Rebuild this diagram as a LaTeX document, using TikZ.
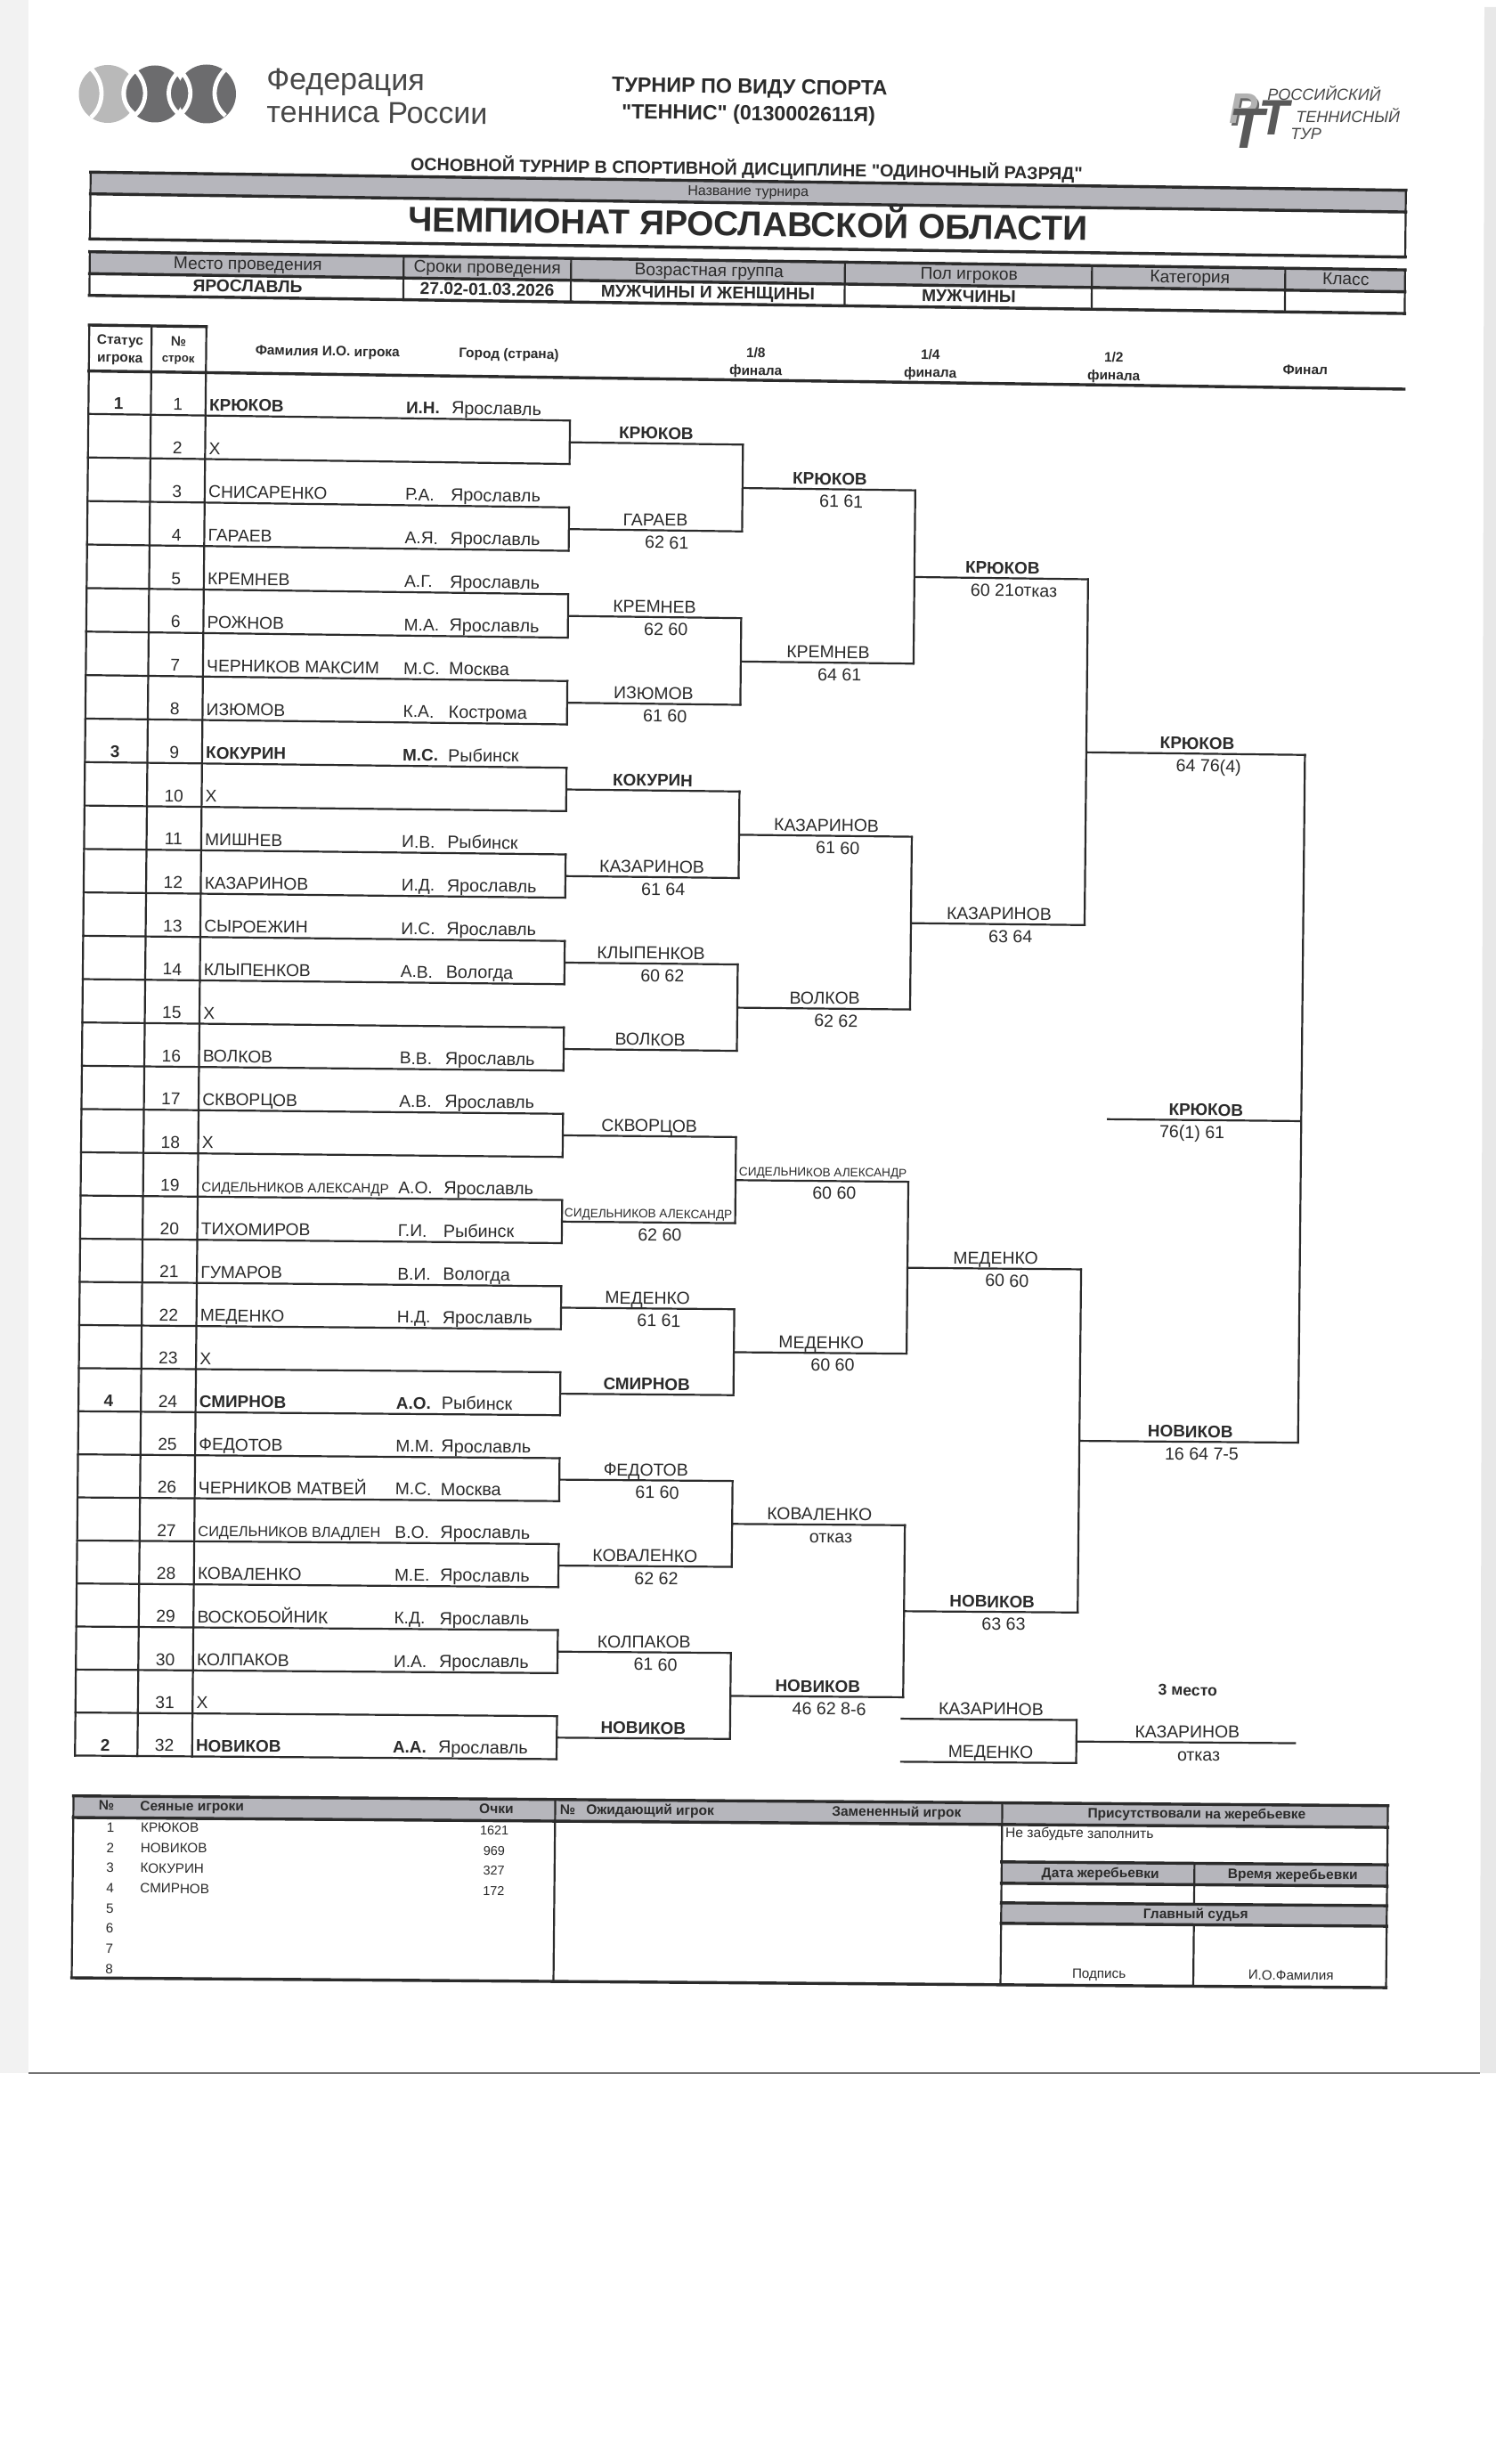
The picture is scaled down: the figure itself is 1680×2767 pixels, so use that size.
\documentclass[tikz,border=0pt]{standalone}
\usepackage{fontspec}
\setmainfont{Liberation Sans}[Ligatures=TeXOff]
\newcommand\FS[1]{\fontsize{#1}{#1}\selectfont}
\definecolor{ink}{HTML}{2B2B2B}
\definecolor{band}{HTML}{B6B6BC}
\definecolor{ballL}{HTML}{B9B9B9}
\definecolor{ballD}{HTML}{6C6C6E}
\definecolor{logoT}{HTML}{484848}
\newcounter{nn}
% (u,v) = page position before the scan's skew
\newcommand\MySlope[1]{\pgfmathsetmacro\mysl{0.0138-0.005*min(max((#1)-465,0),1260)/1000}}
\newcommand\Pt[3]{\MySlope{#3}%
  \pgfmathsetmacro\mypx{(#2)-0.01*((#3)-372)}%
  \pgfmathsetmacro\mypy{(#3)+\mysl*((#2)-100)}%
  \coordinate (#1) at (\mypx,\mypy);}
\newcommand\RV[1]{\pgfmathsetmacro\rv{464.8+48.6*((#1)-1)+3*sin(180*((#1)-1)/31)}}
\newcommand\Tx[4][]{\stepcounter{nn}\Pt{tp\thenn}{#2}{#3}%
  \pgfmathsetmacro\myang{-atan(\mysl)}%
  \node[lbl,rotate=\myang,#1] (n\thenn) at (tp\thenn) {#4};}
% one line of the draw
\newcommand\Row[5]{\RV{#1}\pgfmathsetmacro\mybl{\rv-5.5}%
  \Tx[#5,anchor=base west]{236}{\mybl}{#2}%
  \ifx&#3&\else\Tx[#5,anchor=base west]{457}{\mybl}{#3}\Tx[cty,anchor=base west]{508}{\mybl}{#4}\fi
  \Tx[reg]{200.5}{\mybl}{#1}}
\newcommand\Stat[2]{\RV{#1}\pgfmathsetmacro\mybl{\rv-5.5}\Tx[bld]{134}{\mybl}{#2}}
% winner label and score above / below a line at row #2
\newcommand\Win[5]{\RV{#2}\pgfmathsetmacro\mybl{\rv-5}\pgfmathsetmacro\mysb{\rv+20.5}%
  \Tx[#5]{#1}{\mybl}{#3}\ifx&#4&\else\pgfmathsetmacro\mysu{#1+13}\Tx[sco]{\mysu}{\mysb}{#4}\fi}
% bracket: vertical at u1 between rows a,b and the exit line to u2
\newcommand\Br[4]{\RV{#3}\Pt{ba}{#1}{\rv}\RV{#4}\Pt{bb}{#1}{\rv}%
  \pgfmathsetmacro\mymid{((#3)+(#4))/2}\RV{\mymid}\Pt{bc}{#1}{\rv}\Pt{bd}{#2}{\rv}%
  \draw[rule] (ba)--(bb) (bc)--(bd);}
\newcommand\Hl[4][rule]{\Pt{ha}{#2}{#4}\Pt{hb}{#3}{#4}\draw[#1] (ha)--(hb);}
\newcommand\Vl[4][rule]{\Pt{ha}{#2}{#3}\Pt{hb}{#2}{#4}\draw[#1] (ha)--(hb);}
\newcommand\Bandbox[4]{\Pt{qa}{#1}{#3}\Pt{qb}{#2}{#3}\Pt{qc}{#2}{#4}\Pt{qd}{#1}{#4}%
  \fill[band] (qa)--(qb)--(qc)--(qd)--cycle;}
\tikzset{
  x=0.5pt,y=-0.5pt,
  rule/.style={draw=ink,line width=1.1pt,line cap=rect},
  thick rule/.style={draw=ink,line width=1.7pt,line cap=rect},
  lbl/.style={inner sep=0pt,outer sep=0pt,text=ink,anchor=base},
  reg/.style={font=\FS{9.6}},
  cty/.style={font=\FS{9.9}},
  bld/.style={font=\bfseries\FS{9.45}},
  win/.style={font=\FS{9.7}},
  sco/.style={font=\FS{9.8}},
  hd/.style={font=\bfseries\FS{7.7}},
  capr/.style={font=\FS{9.6}},
  capb/.style={font=\bfseries\FS{9.6}},
  tb/.style={font=\FS{7.6}},
  tbh/.style={font=\bfseries\FS{7.75}},
  logo text/.style={font=\FS{17},text=logoT,rotate=-0.5,anchor=base west,inner sep=0pt},
  tour text/.style={font=\itshape\FS{9},text=logoT,rotate=-0.5,anchor=base west,inner sep=0pt},
  mono/.style={font=\bfseries\itshape\FS{24},inner sep=0pt,anchor=base},
}
\begin{document}
\begin{tikzpicture}
\useasboundingbox (0,0) rectangle (1680,2767);
\fill[white] (0,0) rectangle (1680,2767);
% edges of the scanned sheet
\fill[black!5] (0,0)--(32,0)--(32,2328)--(0,2328)--cycle;
\fill[black!9] (1667,8)--(1680,8)--(1680,2328)--(1662,2328)--cycle;
\draw[black!55,line width=1pt] (32,2328)--(1662,2328);

% federation logo
\fill[ballL] (121,105.5) circle [radius=32.5];
\fill[ballD] (174,105.5) circle [radius=32];
\fill[ballD] (232,105.5) circle [radius=33];
\draw[white,line width=2.4pt]
  (102,77) .. controls (118,92) and (118,118) .. (102,132)
  (153,78) .. controls (134,94) and (134,116) .. (153,130)
  (151,78) .. controls (167,94) and (167,116) .. (151,130)
  (203,78) .. controls (185,94) and (185,116) .. (203,130)
  (201,78) .. controls (218,94) and (218,116) .. (201,130)
  (253,78) .. controls (237,94) and (237,116) .. (253,130);
\node[logo text] (fedA) at (299,100) {Федерация};
\node[logo text] (fedB) at (299,137) {тенниса России};

% tour logo
\node[mono,text=black!60] (mp1) at (1398,141) {Р};
\node[mono,text=black!30] (mp2) at (1396,139) {Р};
\node[mono,font=\bfseries\itshape\FS{32},text=black!65] (mt1) at (1400,166) {Т};
\node[mono,font=\bfseries\itshape\FS{28},text=black!65] (mt2) at (1431,151) {Т};
\node[tour text] (tl1) at (1423,112) {РОССИЙСКИЙ};
\node[tour text] (tl2) at (1455,137) {ТЕННИСНЫЙ};
\node[tour text] (tl3) at (1449,156) {ТУР};

% page heading
\Tx[font=\bfseries\FS{11.65}]{839}{94.8}{ТУРНИР ПО ВИДУ СПОРТА}
\Tx[font=\bfseries\FS{11.6}]{838}{124.8}{"ТЕННИС" (0130002611Я)}
\Tx[font=\bfseries\FS{9.83}]{836.5}{186.5}{ОСНОВНОЙ ТУРНИР В СПОРТИВНОЙ ДИСЦИПЛИНЕ "ОДИНОЧНЫЙ РАЗРЯД"}

% tournament name box
\Bandbox{100}{1577}{193.3}{217.7}
\Bandbox{100}{1577}{282.7}{307.3}
\Hl[thick rule]{100}{1577}{193.3}\Hl[thick rule]{100}{1577}{217.7}\Hl[thick rule]{100}{1577}{268.3}
\Vl[rule]{100}{193.3}{268.3}\Vl[rule]{1577}{193.3}{268.3}
\Tx[font=\FS{8}]{838.5}{209.8}{Название турнира}
\Tx[font=\bfseries\FS{19.4}]{838.5}{254.8}{ЧЕМПИОНАТ ЯРОСЛАВСКОЙ ОБЛАСТИ}

% venue table
\Hl[thick rule]{100}{1577}{282.7}\Hl[thick rule]{100}{1577}{307.3}\Hl[thick rule]{100}{1577}{331.7}
\foreach \cc in {100,452.5,640.5,948,1225.5,1442.5,1577}{\Vl[rule]{\cc}{282.7}{331.7}}
\Tx[capr]{277.5}{300.5}{Место проведения}
\Tx[capr]{546.5}{300.5}{Сроки проведения}
\Tx[capr]{795.5}{300.5}{Возрастная группа}
\Tx[capr]{1087.5}{300.5}{Пол игроков}
\Tx[capr]{1335.5}{300.5}{Категория}
\Tx[capr]{1510.5}{300.5}{Класс}
\Tx[capb]{277.5}{325.5}{ЯРОСЛАВЛЬ}
\Tx[capb]{546.5}{325.5}{27.02-01.03.2026}
\Tx[capb]{794.5}{325.5}{МУЖЧИНЫ И ЖЕНЩИНЫ}
\Tx[capb]{1087.5}{325.5}{МУЖЧИНЫ}

% draw grid
\Hl[thick rule]{100.2}{231.7}{365}
\Hl[thick rule]{100.2}{1577}{416.6}
\RV{32}\Vl[rule]{100.2}{365}{\rv}\RV{32}\Vl[rule]{170.3}{365}{\rv}\RV{32}\Vl[rule]{231.7}{365}{\rv}
\foreach \n in {1,...,32}{\RV{\n}\Pt{rl\n}{100.2}{\rv}\Pt{rr\n}{641}{\rv}\draw[rule] (rl\n)--(rr\n);}

% column heads
\Tx[hd]{135}{386.5}{Статус}
\Tx[hd]{135}{406.5}{игрока}
\Tx[hd]{200.5}{387.5}{№}
\Tx[hd,font=\bfseries\FS{6.6}]{200.5}{405.5}{строк}
\Tx[hd,anchor=base west]{287}{396}{Фамилия И.О. игрока}
\Tx[hd,anchor=base west]{515.5}{396}{Город (страна)}
\Tx[hd]{849}{391.5}{1/8}\Tx[hd]{849}{411}{финала}
\Tx[hd]{1045}{390.8}{1/4}\Tx[hd]{1045}{410.8}{финала}
\Tx[hd]{1251}{390.6}{1/2}\Tx[hd]{1251}{411}{финала}
\Tx[hd]{1466}{401.6}{Финал}

% players
\Row{1}{КРЮКОВ}{И.Н.}{Ярославль}{bld}
\Row{2}{X}{}{}{reg}
\Row{3}{СНИСАРЕНКО}{Р.А.}{Ярославль}{reg}
\Row{4}{ГАРАЕВ}{А.Я.}{Ярославль}{reg}
\Row{5}{КРЕМНЕВ}{А.Г.}{Ярославль}{reg}
\Row{6}{РОЖНОВ}{М.А.}{Ярославль}{reg}
\Row{7}{ЧЕРНИКОВ МАКСИМ}{М.С.}{Москва}{reg}
\Row{8}{ИЗЮМОВ}{К.А.}{Кострома}{reg}
\Row{9}{КОКУРИН}{М.С.}{Рыбинск}{bld}
\Row{10}{X}{}{}{reg}
\Row{11}{МИШНЕВ}{И.В.}{Рыбинск}{reg}
\Row{12}{КАЗАРИНОВ}{И.Д.}{Ярославль}{reg}
\Row{13}{СЫРОЕЖИН}{И.С.}{Ярославль}{reg}
\Row{14}{КЛЫПЕНКОВ}{А.В.}{Вологда}{reg}
\Row{15}{X}{}{}{reg}
\Row{16}{ВОЛКОВ}{В.В.}{Ярославль}{reg}
\Row{17}{СКВОРЦОВ}{А.В.}{Ярославль}{reg}
\Row{18}{X}{}{}{reg}
\RV{19}\pgfmathsetmacro\mybl{\rv-5.5}\Tx[font=\FS{7.6},anchor=base west]{236}{\mybl}{СИДЕЛЬНИКОВ АЛЕКСАНДР}
\Tx[reg,anchor=base west]{457}{\mybl}{А.О.}\Tx[cty,anchor=base west]{508}{\mybl}{Ярославль}\Tx[reg]{200.5}{\mybl}{19}
\Row{20}{ТИХОМИРОВ}{Г.И.}{Рыбинск}{reg}
\Row{21}{ГУМАРОВ}{В.И.}{Вологда}{reg}
\Row{22}{МЕДЕНКО}{Н.Д.}{Ярославль}{reg}
\Row{23}{X}{}{}{reg}
\Row{24}{СМИРНОВ}{А.О.}{Рыбинск}{bld}
\Row{25}{ФЕДОТОВ}{М.М.}{Ярославль}{reg}
\Row{26}{ЧЕРНИКОВ МАТВЕЙ}{М.С.}{Москва}{reg}
\RV{27}\pgfmathsetmacro\mybl{\rv-5.5}\Tx[font=\FS{8.15},anchor=base west]{236}{\mybl}{СИДЕЛЬНИКОВ ВЛАДЛЕН}
\Tx[reg,anchor=base west]{457}{\mybl}{В.О.}\Tx[cty,anchor=base west]{508}{\mybl}{Ярославль}\Tx[reg]{200.5}{\mybl}{27}
\Row{28}{КОВАЛЕНКО}{М.Е.}{Ярославль}{reg}
\Row{29}{ВОСКОБОЙНИК}{К.Д.}{Ярославль}{reg}
\Row{30}{КОЛПАКОВ}{И.А.}{Ярославль}{reg}
\Row{31}{X}{}{}{reg}
\Row{32}{НОВИКОВ}{А.А.}{Ярославль}{bld}
\Stat{1}{1}\Stat{9}{3}\Stat{24}{4}\Stat{32}{2}

% brackets
\foreach \a in {1,3,...,31}{\pgfmathsetmacro\mybt{\a+1}\Br{641}{835.5}{\a}{\mybt}}
\foreach \a in {1,5,...,29}{\pgfmathsetmacro\myat{\a+.5}\pgfmathsetmacro\mybt{\a+2.5}\Br{835.5}{1029.5}{\myat}{\mybt}}
\foreach \a in {1,9,17,25}{\pgfmathsetmacro\myat{\a+1.5}\pgfmathsetmacro\mybt{\a+5.5}\Br{1029.5}{1224.5}{\myat}{\mybt}}
\foreach \a in {1,17}{\pgfmathsetmacro\myat{\a+3.5}\pgfmathsetmacro\mybt{\a+11.5}\Br{1224.5}{1470}{\myat}{\mybt}}
\RV{8.5}\Pt{fa}{1470}{\rv}\RV{24.5}\Pt{fb}{1470}{\rv}\RV{17}\Pt{fc}{1470}{\rv}\Pt{fd}{1253}{\rv}
\draw[rule] (fa)--(fb) (fc)--(fd);
\RV{31}\Hl{1028}{1224.5}{\rv}\RV{32}\Hl{1028}{1224.5}{\rv}\Br{1224.5}{1470}{31}{32}

% first round winners
\Win{738}{1.5}{КРЮКОВ}{}{bld}
\Win{738}{3.5}{ГАРАЕВ}{62 61}{win}
\Win{738}{5.5}{КРЕМНЕВ}{62 60}{win}
\Win{738}{7.5}{ИЗЮМОВ}{61 60}{win}
\Win{738}{9.5}{КОКУРИН}{}{bld}
\Win{738}{11.5}{КАЗАРИНОВ}{61 64}{win}
\Win{738}{13.5}{КЛЫПЕНКОВ}{60 62}{win}
\Win{738}{15.5}{ВОЛКОВ}{}{win}
\Win{738}{17.5}{СКВОРЦОВ}{}{win}
\Win{738}{19.5}{\FS{6.8}СИДЕЛЬНИКОВ АЛЕКСАНДР}{62 60}{win}
\Win{738}{21.5}{МЕДЕНКО}{61 61}{win}
\Win{738}{23.5}{СМИРНОВ}{}{bld}
\Win{738}{25.5}{ФЕДОТОВ}{61 60}{win}
\Win{738}{27.5}{КОВАЛЕНКО}{62 62}{win}
\Win{738}{29.5}{КОЛПАКОВ}{61 60}{win}
\Win{738}{31.5}{НОВИКОВ}{}{bld}
% second round
\Win{933.5}{2.5}{КРЮКОВ}{61 61}{bld}
\Win{933.5}{6.5}{КРЕМНЕВ}{64 61}{win}
\Win{933.5}{10.5}{КАЗАРИНОВ}{61 60}{win}
\Win{933.5}{14.5}{ВОЛКОВ}{62 62}{win}
\Win{933.5}{18.5}{\FS{6.8}СИДЕЛЬНИКОВ АЛЕКСАНДР}{60 60}{win}
\Win{933.5}{22.5}{МЕДЕНКО}{60 60}{win}
\Win{933.5}{26.5}{КОВАЛЕНКО}{отказ}{win}
\Win{933.5}{30.5}{НОВИКОВ}{46 62 8-6}{bld}
% quarter finals
\Win{1128.4}{4.5}{КРЮКОВ}{60 21отказ}{bld}
\Win{1128.4}{12.5}{КАЗАРИНОВ}{63 64}{win}
\Win{1128.4}{20.5}{МЕДЕНКО}{60 60}{win}
\Win{1128.4}{28.5}{НОВИКОВ}{63 63}{bld}
% semi finals
\Win{1349}{8.5}{КРЮКОВ}{64 76(4)}{bld}
\Win{1349}{24.5}{НОВИКОВ}{16 64 7-5}{bld}
% final
\RV{17}\pgfmathsetmacro\mybl{\rv-5}\pgfmathsetmacro\mysb{\rv+20.5}
\Tx[bld]{1363}{\mybl}{КРЮКОВ}\Tx[sco]{1347.5}{\mysb}{76(1) 61}
% third place
\Tx[font=\bfseries\FS{8.8}]{1349}{1894.7}{3 место}
\Win{1128.4}{31}{КАЗАРИНОВ}{}{win}
\Win{1128.4}{32}{МЕДЕНКО}{}{win}
\Win{1349}{31.5}{КАЗАРИНОВ}{отказ}{win}

% lower table
\Bandbox{99}{1575}{2016.7}{2041}
\Bandbox{1142}{1575}{2083}{2107}
\Bandbox{1142}{1575}{2129}{2152}
\Hl[thick rule]{99}{1575}{2016.7}\Hl[thick rule]{99}{1575}{2041}\Hl[thick rule]{99}{1575}{2221}
\Hl[thick rule]{1142}{1575}{2083}\Hl[thick rule]{1142}{1575}{2107}
\Hl[thick rule]{1142}{1575}{2129}\Hl[thick rule]{1142}{1575}{2152}
\Vl{99}{2016.7}{2221}\Vl{640}{2016.7}{2221}\Vl{1142}{2016.7}{2221}\Vl{1575}{2016.7}{2221}
\Vl{1358.5}{2083}{2129}\Vl{1358.5}{2152}{2221}
\Tx[tbh]{136}{2032.5}{№}
\Tx[tbh,anchor=base west]{174}{2032.5}{Сеяные игроки}
\Tx[tbh]{574}{2033}{Очки}
\Tx[tbh]{654}{2033}{№}
\Tx[tbh,anchor=base west]{675}{2033}{Ожидающий игрок}
\Tx[tbh,anchor=base west]{951}{2033}{Замененный игрок}
\Tx[tbh]{1360.5}{2032.5}{Присутствовали на жеребьевке}
\Tx[tb,font=\FS{7.8},anchor=base west]{1146}{2055.5}{Не забудьте заполнить}
\Tx[tbh]{1253}{2100}{Дата жеребьевки}
\Tx[tbh]{1469}{2100}{Время жеребьевки}
\Tx[tbh]{1360.5}{2145}{Главный судья}
\Tx[tb]{1252.5}{2213}{Подпись}
\Tx[tb]{1468}{2213}{И.О.Фамилия}
\foreach \i/\nm/\pts in {1/КРЮКОВ/1621,2/НОВИКОВ/969,3/КОКУРИН/327,4/СМИРНОВ/172}{
  \pgfmathsetmacro\yy{2057+22.7*(\i-1)}
  \Tx[tb]{141}{\yy}{\i}
  \Tx[tb,anchor=base west]{175}{\yy}{\nm}
  \Tx[tb,font=\FS{7.2}]{572}{\yy}{\pts}
}
\foreach \i in {5,6,7,8}{
  \pgfmathsetmacro\yy{2057+22.7*(\i-1)}
  \Tx[tb]{141}{\yy}{\i}
}
\end{tikzpicture}
\end{document}
